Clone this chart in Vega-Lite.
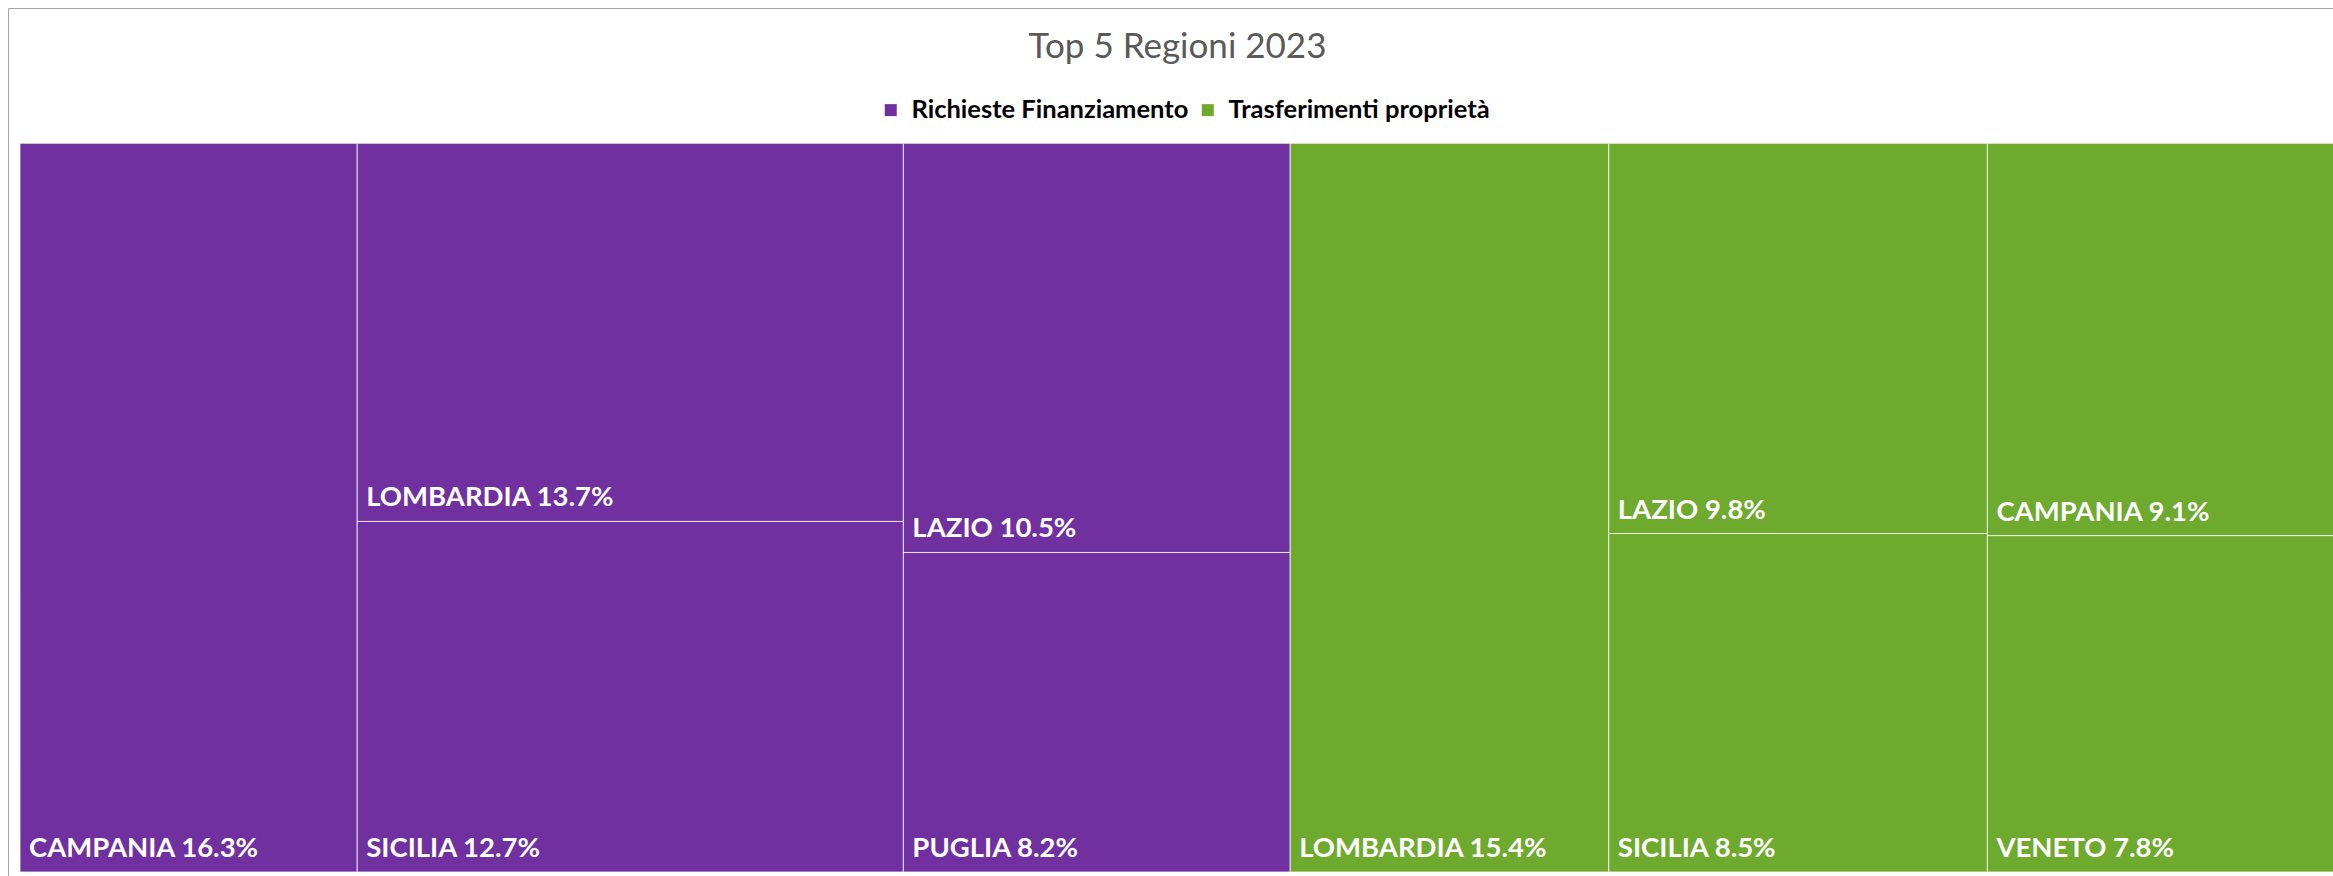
{
  "$schema": "https://vega.github.io/schema/vega-lite/v6.json",
  "autosize": "none",
  "padding": {"left": 8, "top": 8, "right": 0, "bottom": 0},
  "width": 2325,
  "height": 868,
  "background": "white",
  "config": {
    "font": "Lato",
    "view": {"stroke": "#A6A6A6", "strokeWidth": 1}
  },
  "title": {
    "text": "Top 5 Regioni 2023",
    "font": "Lato",
    "fontSize": 35,
    "fontWeight": "normal",
    "color": "#595959",
    "anchor": "middle",
    "frame": "group",
    "orient": "top",
    "baseline": "alphabetic",
    "offset": 0,
    "dy": 85,
    "dx": 7
  },
  "data": {
    "values": [
      {"serie": "Richieste Finanziamento", "regione": "CAMPANIA", "quota": 16.3, "colonna": 1, "ordine": 1},
      {"serie": "Richieste Finanziamento", "regione": "LOMBARDIA", "quota": 13.7, "colonna": 2, "ordine": 1},
      {"serie": "Richieste Finanziamento", "regione": "SICILIA", "quota": 12.7, "colonna": 2, "ordine": 2},
      {"serie": "Richieste Finanziamento", "regione": "LAZIO", "quota": 10.5, "colonna": 3, "ordine": 1},
      {"serie": "Richieste Finanziamento", "regione": "PUGLIA", "quota": 8.2, "colonna": 3, "ordine": 2},
      {"serie": "Trasferimenti proprietà", "regione": "LOMBARDIA", "quota": 15.4, "colonna": 4, "ordine": 1},
      {"serie": "Trasferimenti proprietà", "regione": "LAZIO", "quota": 9.8, "colonna": 5, "ordine": 1},
      {"serie": "Trasferimenti proprietà", "regione": "SICILIA", "quota": 8.5, "colonna": 5, "ordine": 2},
      {"serie": "Trasferimenti proprietà", "regione": "CAMPANIA", "quota": 9.1, "colonna": 6, "ordine": 1},
      {"serie": "Trasferimenti proprietà", "regione": "VENETO", "quota": 7.8, "colonna": 6, "ordine": 2}
    ]
  },
  "transform": [
    {"joinaggregate": [{"op": "sum", "field": "quota", "as": "totCol"}], "groupby": ["colonna"]},
    {"window": [{"op": "sum", "field": "quota", "as": "xFine"}], "sort": [{"field": "colonna", "order": "ascending"}], "frame": [null, 0], "ignorePeers": false},
    {"calculate": "datum.xFine - datum.totCol", "as": "xInizio"},
    {"window": [{"op": "sum", "field": "quota", "as": "yCum"}], "groupby": ["colonna"], "sort": [{"field": "ordine", "order": "ascending"}], "frame": [null, 0]},
    {"calculate": "datum.yCum / datum.totCol", "as": "yFine"},
    {"calculate": "(datum.yCum - datum.quota) / datum.totCol", "as": "yInizio"},
    {"calculate": "datum.regione + ' ' + format(datum.quota, '.1f') + '%'", "as": "etichetta"}
  ],
  "layer": [
    {
      "mark": {"type": "rect", "stroke": "white", "strokeWidth": 1, "strokeOpacity": 0.75, "clip": true},
      "encoding": {
        "x": {"field": "xInizio", "type": "quantitative", "axis": null, "scale": {"domain": [-0.58006, 111.8066], "nice": false, "zero": false}},
        "x2": {"field": "xFine"},
        "y": {"field": "yInizio", "type": "quantitative", "axis": null, "scale": {"domain": [-0.18567, 1.0055], "nice": false, "zero": false, "reverse": true}},
        "y2": {"field": "yFine"},
        "color": {
          "field": "serie",
          "type": "nominal",
          "scale": {"domain": ["Richieste Finanziamento", "Trasferimenti proprietà"], "range": ["#7030A0", "#6EAA2E"]},
          "legend": {
            "title": null,
            "orient": "none",
            "direction": "horizontal",
            "legendX": 870,
            "legendY": 89,
            "padding": 0,
            "symbolType": "square",
            "symbolSize": 144,
            "symbolOpacity": 1,
            "symbolStrokeWidth": 0,
            "labelFont": "Lato",
            "labelFontWeight": "bold",
            "labelFontSize": 25.5,
            "labelColor": "#000000",
            "labelOffset": 8,
            "columnPadding": 6,
            "labelLimit": 500
          }
        }
      }
    },
    {
      "mark": {"type": "text", "align": "left", "baseline": "alphabetic", "dx": 9, "dy": -15, "color": "white", "font": "Lato", "fontWeight": "bold", "fontSize": 27.5},
      "encoding": {
        "x": {"field": "xInizio", "type": "quantitative"},
        "y": {"field": "yFine", "type": "quantitative"},
        "text": {"field": "etichetta", "type": "nominal"}
      }
    }
  ]
}
